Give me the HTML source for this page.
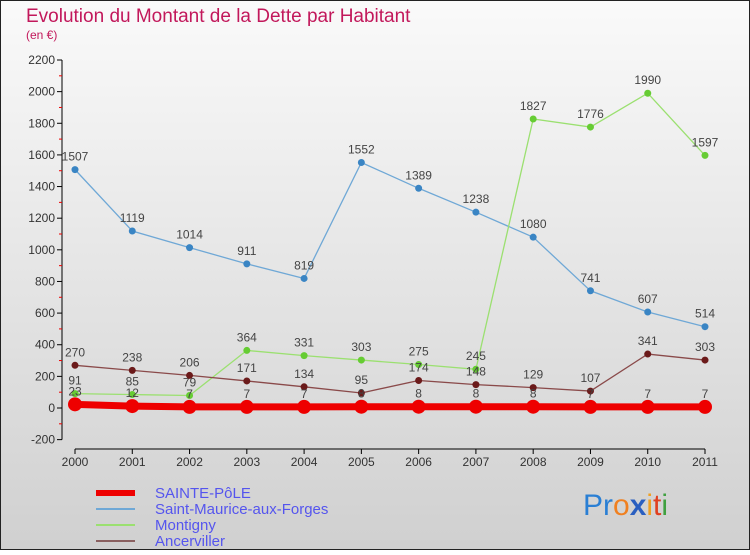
<!DOCTYPE html>
<html><head><meta charset="utf-8"><style>
body{margin:0;width:750px;height:550px;overflow:hidden;font-family:"Liberation Sans",sans-serif}
</style></head><body>
<svg id="c" width="750" height="550" xmlns="http://www.w3.org/2000/svg">
<defs><linearGradient id="bg" x1="0" y1="0" x2="0" y2="1"><stop offset="0" stop-color="#fafafa"/><stop offset="1" stop-color="#d0d0d0"/></linearGradient></defs>
<rect x="0.5" y="0.5" width="749" height="549" fill="url(#bg)" stroke="#222"/>
<text x="26" y="22" font-size="19" fill="#c2185b">Evolution du Montant de la Dette par Habitant</text>
<text x="26" y="39" font-size="12" fill="#c2185b">(en €)</text>
<g id="axes"></g><g id="series"></g><g id="legend"></g>
<text x="583" y="515" font-size="30"><tspan fill="#2a7fd4">Pr</tspan><tspan fill="#f08020">o</tspan><tspan fill="#2a5fc0" font-weight="bold">x</tspan><tspan fill="#f0a020">i</tspan><tspan fill="#e04020">t</tspan><tspan fill="#40a040">i</tspan></text>
</svg>
<script>
const years=[2000,2001,2002,2003,2004,2005,2006,2007,2008,2009,2010,2011];
const yTicks=[-200,0,200,400,600,800,1000,1200,1400,1600,1800,2000,2200];
const sStMaurice=[1507,1119,1014,911,819,1552,1389,1238,1080,741,607,514];
const sMontigny=[91,85,79,364,331,303,275,245,1827,1776,1990,1597];
const sAncerviller=[270,238,206,171,134,95,174,148,129,107,341,303];
const sSaintePole=[23,12,7,7,7,8,8,8,8,7,7,7];
const NS="http://www.w3.org/2000/svg";
const X=i=>75+i*(630/(years.length-1));
const Y=v=>408-v*(348/2200);
function el(t,a,p){const e=document.createElementNS(NS,t);for(const k in a)e.setAttribute(k,a[k]);p.appendChild(e);return e;}
const ax=document.getElementById('axes');
let l=el('line',{x1:62,y1:Y(2200),x2:62,y2:Y(-200),stroke:'#000'},ax);


l=el('line',{x1:X(0),y1:449,x2:X(11),y2:449,stroke:'#000'},ax);


yTicks.forEach((v,i)=>{
 el('line',{x1:57,x2:62,y1:Y(v),y2:Y(v),stroke:'#000'},ax);
 if(i<yTicks.length-1) el('line',{x1:59,x2:62,y1:Y(v+100),y2:Y(v+100),stroke:'#e00'},ax);
 const t=el('text',{x:55,y:Y(v)+4,'font-size':12,fill:'#333','text-anchor':'end'},ax);t.textContent=v;
 
 
});
years.forEach((y,i)=>{
 el('line',{x1:X(i),x2:X(i),y1:449,y2:454,stroke:'#000'},ax);
 const t=el('text',{x:X(i),y:466,'font-size':12,fill:'#333','text-anchor':'middle'},ax);t.textContent=y;
 
 
});
const sg=document.getElementById('series');
function draw(name,data,color,dot,w,r,labels){
 const g=el('g',{},sg);
 
 
 el('polyline',{points:data.map((v,i)=>X(i)+','+Y(v)).join(' '),fill:'none',stroke:color,'stroke-width':w},g);
 data.forEach((v,i)=>{
  const c=el('circle',{cx:X(i),cy:Y(v),r:r,fill:dot},g);
  
  
  if(labels){const t=el('text',{x:X(i),y:Y(v)-9,'font-size':12,fill:'#444','text-anchor':'middle'},g);t.textContent=v;
  
  }
 });
}
draw('saint-maurice',sStMaurice,'#6fa8d6','#3a85c4',1.3,3.5,true);
draw('montigny',sMontigny,'#9be070','#66cc33',1.3,3.5,true);
draw('ancerviller',sAncerviller,'#8a4a4a','#6b1a1a',1.3,3.5,true);
draw('sainte-pole',sSaintePole,'#ee0000','#ee0000',7,7,true);
const lg=document.getElementById('legend');
[['SAINTE-PôLE','#ee0000',6],['Saint-Maurice-aux-Forges','#6fa8d6',2],['Montigny','#9be070',2],['Ancerviller','#8a6060',2]].forEach((d,i)=>{
 const y=493+i*16;
 const g=el('g',{},lg);
 
 
 el('line',{x1:96,x2:135,y1:y,y2:y,stroke:d[1],'stroke-width':d[2]},g);
 const t=el('text',{x:155,y:y+5,'font-size':15,fill:'#5555ee'},g);t.textContent=d[0];
});
</script>
</body></html>
